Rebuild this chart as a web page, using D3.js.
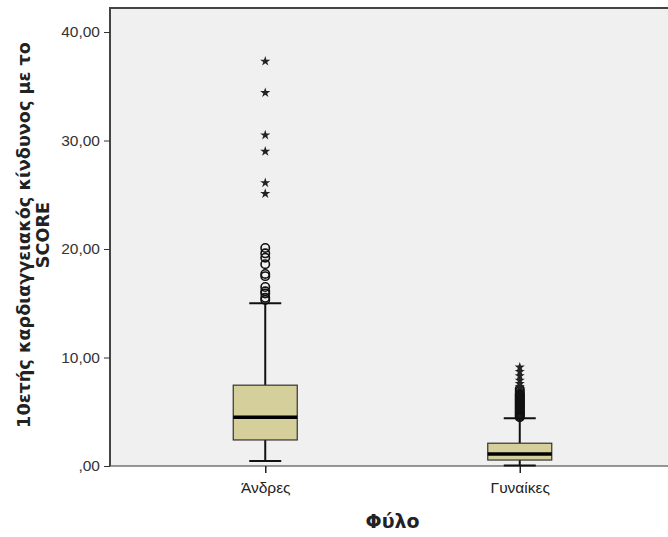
<!DOCTYPE html>
<html>
<head>
<meta charset="utf-8">
<script src="https://cdn.jsdelivr.net/npm/d3@7"></script>
<style>
	body { margin: 0; background: #fff; }
	text { font-family: "Liberation Sans", Arial, sans-serif; }
	text.title { font-family: "DejaVu Sans", sans-serif; font-weight: bold; }
</style>
</head>
<body>
<svg class="svgWrapper" width="668" height="537"></svg>
<script>

// groups on the x axis
const groups = ['Άνδρες', 'Γυναίκες'];

// box stats per group: [lower whisker, q1, median, q3, upper whisker]
const boxStats = [
	[0.45, 2.4, 4.5, 7.45, 15.0],
	[0.05, 0.55, 1.1, 2.1, 4.4]
];

// outliers (circles) and extremes (stars)
const outliersMen = [15.3, 15.5, 15.9, 16.1, 16.5, 17.5, 17.7, 18.6, 19.2, 19.6, 20.1];
const extremesMen = [25.1, 26.1, 29.0, 30.5, 34.4, 37.3];
const outliersWomen = [4.5, 4.6, 4.7, 4.8, 4.9, 5.0, 5.1, 5.2, 5.3, 5.4, 5.5, 5.6, 5.7, 5.8, 5.9, 6.0, 6.1, 6.2, 6.3, 6.4, 6.5, 6.6, 6.7, 6.9, 7.1];
const extremesWomen = [7.3, 7.6, 7.9, 8.3, 8.7, 9.1];

const yTicks = [0, 10, 20, 30, 40];

const svgObj = d3.select('.svgWrapper');

const plotL = 110, plotR = 675, plotT = 8, plotB = 466;

const xScale = d3.scalePoint()
	.domain(groups)
	.range([plotL, plotR])
	.padding(0.61);

// 40 sits at y=32, 0 at y=466
const yScale = d3.scaleLinear()
	.domain([0, 40])
	.range([plotB, 32]);

const fmt = d => d === 0 ? ',00' : d3.format('.2f')(d).replace('.', ',');

// plot background
svgObj.append('rect')
	.attr('x', plotL).attr('y', plotT)
	.attr('width', plotR - plotL).attr('height', plotB - plotT)
	.attr('fill', '#f0f0f0');

// frame top + left
svgObj.append('path')
	.attr('d', `M${plotL},${plotB}V${plotT}H${plotR}`)
	.attr('fill', 'none')
	.attr('stroke', '#444')
	.attr('stroke-width', 2);

// y axis
const yAxisG = svgObj.append('g')
	.attr('transform', `translate(${plotL},0)`)
	.call(d3.axisLeft(yScale).tickValues(yTicks).tickFormat(fmt).tickSize(6).tickSizeOuter(0));
yAxisG.select('.domain').remove();
yAxisG.selectAll('line').attr('stroke', '#333');
yAxisG.selectAll('text').attr('fill', '#333').attr('font-size', 15.5).attr('dx', -1);

// x axis
const xAxisG = svgObj.append('g')
	.attr('transform', `translate(0,${plotB})`)
	.call(d3.axisBottom(xScale).tickSize(7).tickSizeOuter(0));
xAxisG.select('.domain').attr('d', `M${plotL},0H${plotR}`).attr('stroke', '#333');
xAxisG.selectAll('line').attr('stroke', '#222').attr('stroke-width', 1.5);
xAxisG.selectAll('text').attr('fill', '#222').attr('font-size', 15.5).attr('y', 27).attr('dy', 0);

// boxes
const boxW = 64;
const boxG = svgObj.selectAll('.box')
	.data(groups)
	.join('g')
	.attr('class', 'box')
	.attr('transform', d => `translate(${xScale(d)},0)`);

boxG.each(function(d, i){
	const g = d3.select(this);
	const s = boxStats[i];
	// whiskers
	g.append('line')
		.attr('y1', yScale(s[0])).attr('y2', yScale(s[1]))
		.attr('stroke', '#111').attr('stroke-width', 2);
	g.append('line')
		.attr('y1', yScale(s[3])).attr('y2', yScale(s[4]))
		.attr('stroke', '#111').attr('stroke-width', 2);
	[s[0], s[4]].forEach(v => {
		g.append('line')
			.attr('x1', -boxW / 4).attr('x2', boxW / 4)
			.attr('y1', yScale(v)).attr('y2', yScale(v))
			.attr('stroke', '#111').attr('stroke-width', 2);
	});
	g.append('rect')
		.attr('x', -boxW / 2).attr('width', boxW)
		.attr('y', yScale(s[3])).attr('height', yScale(s[1]) - yScale(s[3]))
		.attr('fill', '#d4cf9b')
		.attr('stroke', '#333').attr('stroke-width', 1.2);
	g.append('line')
		.attr('x1', -boxW / 2).attr('x2', boxW / 2)
		.attr('y1', yScale(s[2])).attr('y2', yScale(s[2]))
		.attr('stroke', '#000').attr('stroke-width', 3.5);
});

const outliers = [outliersMen, outliersWomen];
const extremes = [extremesMen, extremesWomen];

groups.forEach((grp, i) => {
	svgObj.append('g').selectAll('circle')
		.data(outliers[i])
		.join('circle')
		.attr('cx', xScale(grp))
		.attr('cy', d => yScale(d))
		.attr('r', 4.2)
		.attr('fill', 'none')
		.attr('stroke', '#111')
		.attr('stroke-width', 1.6);

	svgObj.append('g').selectAll('path')
		.data(extremes[i])
		.join('path')
		.attr('transform', d => `translate(${xScale(grp)},${yScale(d)})`)
		.attr('d', d3.symbol(d3.symbolStar, 32))
		.attr('fill', '#222');
});

// axis titles
const xTitle = svgObj.append('text')
	.attr('class', 'title')
	.attr('x', (plotL + plotR) / 2)
	.attr('y', 528)
	.attr('text-anchor', 'middle')
	.attr('font-size', 16)
	.attr('fill', '#222')
	.text('Φύλο');
{
	// match the original title width
	const len = xTitle.node().getComputedTextLength();
	xTitle.attr('font-size', 16 * 54 / len);
}

const yTitle = svgObj.append('text')
	.attr('class', 'title')
	.attr('transform', 'translate(30,235) rotate(-90)')
	.attr('text-anchor', 'middle')
	.attr('font-size', 15)
	.attr('fill', '#222');
const line1 = yTitle.append('tspan').attr('x', 0).attr('y', 0).text('10ετής καρδιαγγειακός κίνδυνος με το');
const line2 = yTitle.append('tspan').attr('x', 0).attr('y', 16).text('SCORE');
{
	const len = line1.node().getComputedTextLength();
	const size = 15 * 386 / len;
	yTitle.attr('font-size', size);
	line2.attr('y', size * 1.05);
}

</script>
</body>
</html>
